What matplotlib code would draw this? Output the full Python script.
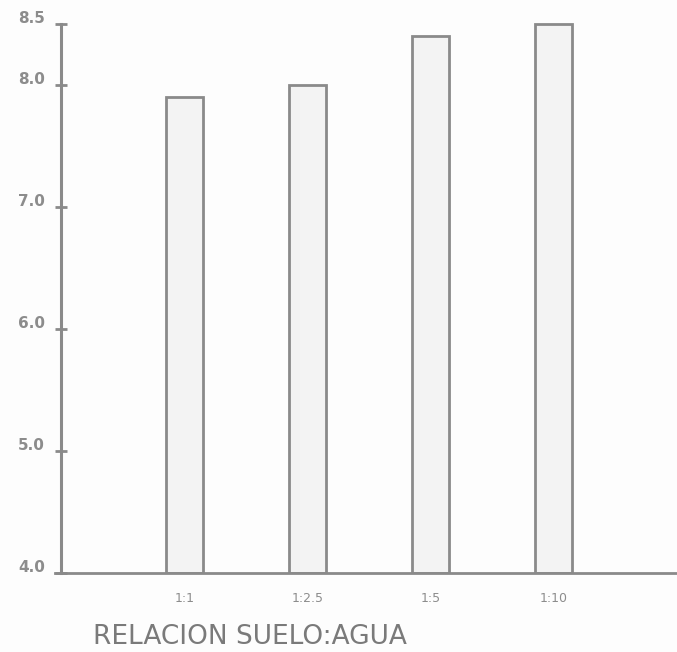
import matplotlib
matplotlib.use("Agg")
import matplotlib.pyplot as plt
from matplotlib.transforms import offset_copy

# pH measured at each soil:water ratio
ratios = ["1:1", "1:2.5", "1:5", "1:10"]
ph_values = [7.9, 8.0, 8.4, 8.5]
y_ticks = [4.0, 5.0, 6.0, 7.0, 8.0, 8.5]
y_tick_labels = ["4.0", "5.0", "6.0", "7.0", "8.0", "8.5"]
x_title = "RELACION SUELO:AGUA"

ink = "#8a8a8a"
text_ink = "#8c8c8c"

fig = plt.figure(figsize=(6.77, 6.52), dpi=100)
fig.patch.set_facecolor("#fdfdfd")
ax = fig.add_axes([61 / 677, 79 / 652, 1 - 61 / 677, (573 - 20) / 652])
ax.set_facecolor("#fdfdfd")

positions = list(range(1, len(ratios) + 1))
base = 4.0
ax.bar(positions, [v - base for v in ph_values], bottom=base, width=0.3,
       facecolor="#f3f3f3", edgecolor=ink, linewidth=2.0, zorder=2)

ax.set_xlim(0, 5)
ax.set_ylim(4.0, 8.53)

for side in ("top", "right"):
    ax.spines[side].set_visible(False)
ax.spines["left"].set_color(ink)
ax.spines["left"].set_linewidth(2.2)
ax.spines["left"].set_bounds(4.0, 8.5)
ax.spines["bottom"].set_color(ink)
ax.spines["bottom"].set_linewidth(2.0)
ax.spines["bottom"].set_bounds(-0.05, 5)

# y ticks cross the axis; their labels sit a little above each tick
ax.set_yticks(y_ticks)
ax.set_yticklabels([])
ax.tick_params(axis="y", direction="inout", length=9, width=2.0, color=ink)
ylab_tf = offset_copy(ax.get_yaxis_transform(), fig=fig, x=-16, y=5, units="dots")
for val, lab in zip(y_ticks, y_tick_labels):
    ax.text(0, val, lab, transform=ylab_tf,
            ha="right", va="center", fontsize=11, fontweight="bold", color=text_ink)

ax.set_xticks(positions)
ax.set_xticklabels(ratios, fontsize=9, color=text_ink)
ax.tick_params(axis="x", length=0, pad=14)

ax.set_xlabel(x_title, fontsize=19, color="#7a7a7a")
ax.xaxis.set_label_coords((250 - 61) / 616, -0.093)

fig.savefig("out.png", dpi=100, facecolor=fig.get_facecolor())
